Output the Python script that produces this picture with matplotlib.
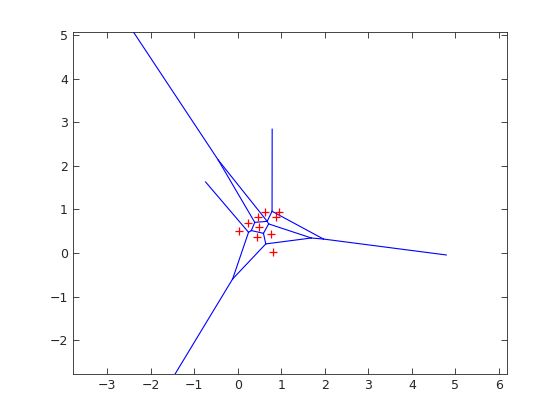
import matplotlib
matplotlib.use('Agg')
import matplotlib.pyplot as plt
import numpy as np
from itertools import combinations

# sites
site_x = [0.03, 0.24, 0.47, 0.62, 0.49, 0.44, 0.885, 0.955, 0.76, 0.815]
site_y = [0.51, 0.695, 0.83, 0.95, 0.59, 0.37, 0.82, 0.95, 0.44, 0.015]

# where the unbounded edges stop (pairs of hull sites and the end point)
ray_pairs = [(0, 1), (1, 3), (3, 7), (7, 9), (9, 0)]
ray_end_x = [-0.74, -2.75, 0.79, 4.79, -1.85]
ray_end_y = [1.63, 5.60, 2.84, -0.045, -3.45]

pts = np.column_stack([site_x, site_y])
n = len(pts)


def circumcenter(a, b, c):
    d = 2 * (a[0] * (b[1] - c[1]) + b[0] * (c[1] - a[1]) + c[0] * (a[1] - b[1]))
    if abs(d) < 1e-12:
        return None
    ux = ((a @ a) * (b[1] - c[1]) + (b @ b) * (c[1] - a[1]) + (c @ c) * (a[1] - b[1])) / d
    uy = ((a @ a) * (c[0] - b[0]) + (b @ b) * (a[0] - c[0]) + (c @ c) * (b[0] - a[0])) / d
    return np.array([ux, uy])


# Delaunay by empty-circle test, Voronoi vertices = circumcentres
tris, centres = [], []
for t in combinations(range(n), 3):
    c = circumcenter(*pts[list(t)])
    if c is None:
        continue
    r = np.linalg.norm(pts[t[0]] - c)
    d = np.linalg.norm(pts - c, axis=1)
    others = [k for k in range(n) if k not in t]
    if np.all(d[others] > r - 1e-9):
        tris.append(set(t))
        centres.append(c)

segs = []
for a, b in combinations(range(len(tris)), 2):
    if len(tris[a] & tris[b]) == 2:
        segs.append((centres[a], centres[b]))

for (i, j), ex, ey in zip(ray_pairs, ray_end_x, ray_end_y):
    for t, c in zip(tris, centres):
        if i in t and j in t:
            segs.append((c, np.array([ex, ey])))
            break

fig = plt.figure(figsize=(5.6, 4.2), dpi=100)
ax = fig.add_axes([0.13, 0.11, 0.775, 0.815])

for p, q in segs:
    ax.plot([p[0], q[0]], [p[1], q[1]], color='#0000ff', lw=0.8)
ax.plot(site_x, site_y, '+', color='#ff0000', ms=6, mew=0.9)

ax.set_xlim(-3.79, 6.18)
ax.set_ylim(-2.77, 5.08)
ax.set_xticks(range(-3, 7))
ax.set_yticks(range(-2, 6))
ax.tick_params(direction='in', top=True, right=True, length=4, width=0.6,
               labelsize=9, colors='#262626')
for s in ax.spines.values():
    s.set_color('#262626')
    s.set_linewidth(0.6)

fig.savefig('out.png', dpi=100)
